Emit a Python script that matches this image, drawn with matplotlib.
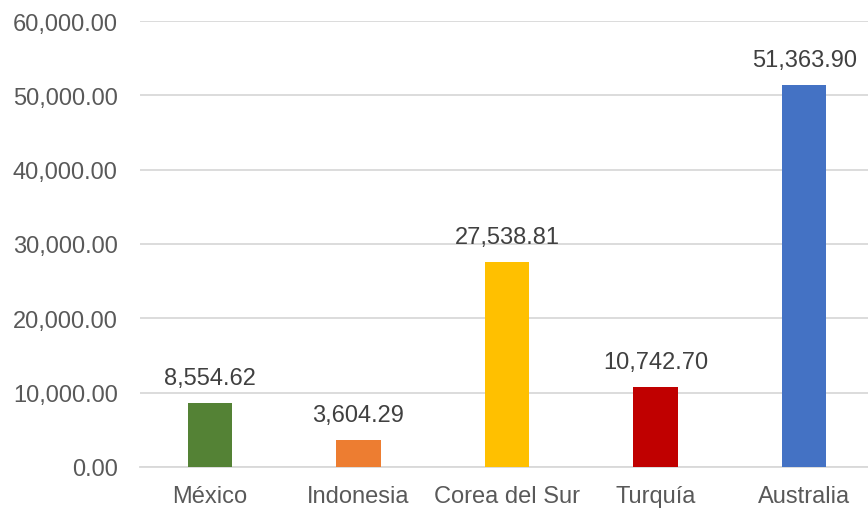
import numpy as np
import matplotlib.pyplot as plt
from matplotlib.ticker import FuncFormatter

# data
paises = ['México', 'Indonesia', 'Corea del Sur', 'Turquía', 'Australia']
valores = [8554.62, 3604.29, 27538.81, 10742.70, 51363.90]
colores = ['#548235', '#ED7D31', '#FFC000', '#C00000', '#4472C4']
y_ticks = [0, 10000, 20000, 30000, 40000, 50000, 60000]

plt.rcParams['font.family'] = ['Liberation Sans', 'DejaVu Sans']
texto = '#595959'

fig = plt.figure(figsize=(8.68, 5.10), dpi=100)
ax = fig.add_axes([140 / 868, 42 / 510, 728 / 868, 446 / 510])

x = np.arange(len(paises))
ax.bar(x, valores, width=0.30, color=colores, zorder=3)

for xi, v in zip(x, valores):
    ax.text(xi, v + 1900, f'{v:,.2f}', ha='center', va='bottom',
            fontsize=17, color='#404040')

ax.set_xlim(-0.471, 4.43)
ax.set_ylim(0, 60000)
ax.set_yticks(y_ticks)
ax.yaxis.set_major_formatter(FuncFormatter(lambda v, p: f'{v:,.2f}'))
ax.set_xticks(x)
ax.set_xticklabels(paises)
ax.grid(axis='y', color='#D9D9D9', linewidth=1.3, zorder=0)
for s in ['top', 'right', 'left']:
    ax.spines[s].set_visible(False)
ax.spines['bottom'].set_color('#D9D9D9')
ax.spines['bottom'].set_linewidth(1.3)
ax.tick_params(axis='both', length=0, labelsize=17, labelcolor=texto)
ax.tick_params(axis='y', pad=16)
ax.tick_params(axis='x', pad=13)

fig.savefig('out.png', dpi=100)
